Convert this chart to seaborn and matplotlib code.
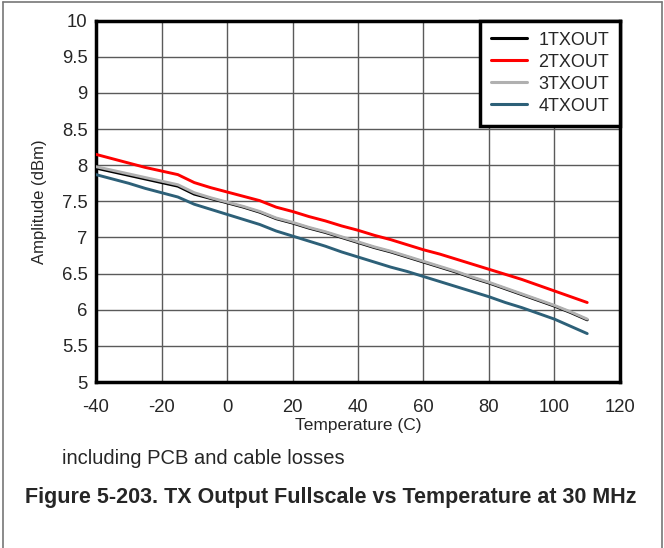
"""
TX output fullscale vs temperature at 30 MHz
"""
import matplotlib
matplotlib.use('Agg')
import matplotlib.pyplot as plt
from matplotlib.lines import Line2D
import numpy as np
import pandas as pd
import seaborn as sns

# 5 degree steps
temperature = [-40, -35, -30, -25, -20, -15, -10, -5, 0, 5, 10, 15, 20, 25, 30, 35,
               40, 45, 50, 55, 60, 65, 70, 75, 80, 85, 90, 95, 100, 105, 110]
tx1 = [7.96, 7.91, 7.86, 7.81, 7.76, 7.71, 7.60, 7.54, 7.48, 7.42, 7.35, 7.26, 7.20, 7.13,
       7.07, 7.00, 6.93, 6.86, 6.80, 6.73, 6.66, 6.59, 6.52, 6.44, 6.37, 6.29, 6.21, 6.13,
       6.05, 5.96, 5.86]
tx2 = [8.15, 8.09, 8.03, 7.97, 7.92, 7.87, 7.76, 7.69, 7.63, 7.57, 7.51, 7.42, 7.36, 7.29,
       7.23, 7.16, 7.10, 7.03, 6.97, 6.90, 6.83, 6.77, 6.70, 6.63, 6.56, 6.49, 6.42, 6.34,
       6.26, 6.18, 6.10]
tx3 = [7.98, 7.93, 7.88, 7.83, 7.78, 7.73, 7.62, 7.55, 7.49, 7.43, 7.36, 7.27, 7.21, 7.14,
       7.08, 7.01, 6.94, 6.87, 6.81, 6.74, 6.67, 6.60, 6.53, 6.45, 6.38, 6.30, 6.22, 6.14,
       6.06, 5.97, 5.87]
tx4 = [7.87, 7.81, 7.75, 7.68, 7.62, 7.56, 7.46, 7.39, 7.32, 7.25, 7.18, 7.09, 7.02, 6.95,
       6.88, 6.80, 6.73, 6.66, 6.59, 6.53, 6.46, 6.39, 6.32, 6.25, 6.18, 6.10, 6.03, 5.95,
       5.87, 5.77, 5.67]
names = ['1TXOUT', '2TXOUT', '3TXOUT', '4TXOUT']
colors = {'1TXOUT': '#000000', '2TXOUT': '#ff0000', '3TXOUT': '#b0b0b0', '4TXOUT': '#2d6078'}

df = pd.DataFrame({'Temperature': temperature * 4,
                   'Amplitude': tx1 + tx2 + tx3 + tx4,
                   'Channel': np.repeat(names, len(temperature))})

sns.set_style('white')
plt.rcParams['font.family'] = ['Liberation Sans', 'DejaVu Sans']
plt.rcParams['axes.unicode_minus'] = False

fig = plt.figure(figsize=(6.64, 5.48), dpi=100)
ax = fig.add_axes([0.1446, 0.3029, 0.7891, 0.6593])

sns.lineplot(data=df, x='Temperature', y='Amplitude', hue='Channel', palette=colors,
             linewidth=2.1, ax=ax, legend=False, zorder=3)

ax.set_xlim(-40, 120)
ax.set_ylim(5, 10)
ax.set_xticks(np.arange(-40, 121, 20))
ax.set_yticks(np.arange(5, 10.01, 0.5))
ax.set_yticklabels(['5', '5.5', '6', '6.5', '7', '7.5', '8', '8.5', '9', '9.5', '10'])
ax.grid(True, color='#5a5a5a', linewidth=1.0)
ax.tick_params(labelsize=13.3, length=0)
ax.tick_params(axis='x', pad=12)
ax.tick_params(axis='y', pad=6)
for s in ax.spines.values():
    s.set_color('black')
    s.set_linewidth(2.5)
ax.set_xlabel('Temperature (C)', fontsize=12.5, labelpad=2)
ax.set_ylabel('Amplitude (dBm)', fontsize=12, labelpad=11)

handles = [Line2D([], [], color=colors[n], linewidth=2.2) for n in names]
leg = ax.legend(handles, names, loc='upper right', fontsize=13, frameon=True,
                fancybox=False, borderaxespad=0, handlelength=2.0, handletextpad=0.65,
                labelspacing=0.28, borderpad=0.6, framealpha=1)
leg.get_frame().set_edgecolor('black')
leg.get_frame().set_linewidth(2.5)

fig.text(0.093, 0.164, 'including PCB and cable losses', fontsize=14.5, va='center')
fig.text(0.037, 0.093, 'Figure 5-203. TX Output Fullscale vs Temperature at 30 MHz',
         fontsize=15.5, fontweight='bold', va='center')

# outer frame (left, top, right)
fig.add_artist(Line2D([0.004, 0.004], [0, 0.996], color='#777777', linewidth=1.2))
fig.add_artist(Line2D([0.004, 0.997], [0.996, 0.996], color='#777777', linewidth=1.2))
fig.add_artist(Line2D([0.997, 0.997], [0, 0.996], color='#777777', linewidth=1.2))

fig.savefig('out.png', dpi=100)
